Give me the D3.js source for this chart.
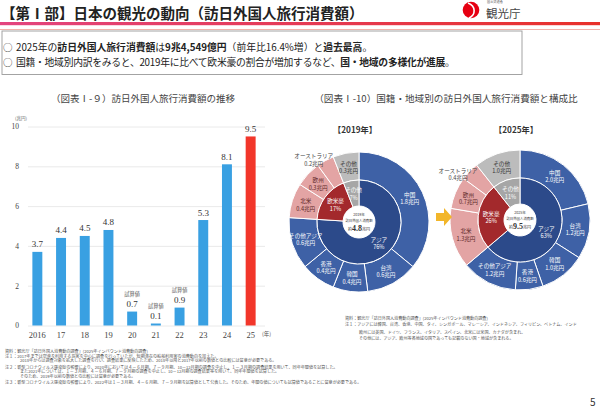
<!DOCTYPE html>
<html><head><meta charset="utf-8">
<script src="https://cdn.jsdelivr.net/npm/d3@7"></script>
<style>body{margin:0;background:#fff}svg{display:block}</style>
</head><body><svg id="c" width="600" height="414"></svg>
<script>
// ---------- data ----------
const years = ["2016","17","18","19","20","21","22","23","24","25"];
const spend = [3.7,4.4,4.5,4.8,0.7,0.1,0.9,5.3,8.1,9.5];
const estimated = [false,false,false,false,true,true,true,false,false,false];
const yTicks = [0,2,4,6,8,10];
const regions = ["中国","台湾","韓国","香港","その他アジア","北米","欧州","オーストラリア","その他"];
const regionGroup = ["asia","asia","asia","asia","asia","west","west","west","other"];
const spend2019 = [1.8,0.6,0.4,0.4,0.6,0.4,0.3,0.2,0.3];
const spend2025 = [2.0,1.2,1.0,0.6,1.2,1.3,0.7,0.4,1.0];
const groupKeys = ["asia","west","other"];
const groupNames = ["アジア","欧米豪","その他"];
const share2019 = [76,17,7];
const share2025 = [63,26,11];
const totals = {"2019":"4.8","2025":"9.5"};

const JP = "'Noto Sans CJK JP', sans-serif";
const SERIF = "'Liberation Serif', 'Noto Sans CJK JP', serif";
const svg = d3.select("#c");

// ---------- header ----------
const defs = svg.append("defs");
const grad = defs.append("linearGradient").attr("id","hdr").attr("x1","0").attr("x2","1");
grad.append("stop").attr("offset","0").attr("stop-color","#e3447f");
grad.append("stop").attr("offset","1").attr("stop-color","#e8302a");
svg.append("rect").attr("x",0).attr("y",22).attr("width",600).attr("height",3.2).attr("fill","url(#hdr)");
svg.append("line").attr("x1",0).attr("x2",600).attr("y1",29.5).attr("y2",29.5).attr("stroke","#f3b2ab").attr("stroke-width",1);
svg.append("text").attr("x",1).attr("y",19).attr("font-family",JP).attr("font-weight",700)
  .attr("font-size",14.5).attr("fill","#222").text("【第Ⅰ部】日本の観光の動向（訪日外国人旅行消費額）");
// logo
svg.append("circle").attr("cx",471).attr("cy",10).attr("r",8.3).attr("fill","#e60012");
svg.append("path").attr("d","M468,3 C476,6 476,15 469,18").attr("fill","none").attr("stroke","#fff").attr("stroke-width",1.6);
svg.append("text").attr("x",487).attr("y",3.3).attr("font-family",JP).attr("font-size",3.2).attr("fill","#555").text("国土交通省");
svg.append("text").attr("x",486).attr("y",18).attr("font-family",JP).attr("font-size",11.5).attr("fill","#444").text("観光庁");

// ---------- bullet box ----------
svg.append("rect").attr("x",2).attr("y",31).attr("width",520).attr("height",43.5)
  .attr("fill","#fff").attr("stroke","#9a9a9a").attr("stroke-width",0.9);
const bullets = [
  [["2025年の",0],["訪日外国人旅行消費額",1],["は",0],["9兆4,549億円",1],["（前年比16.4%増）と",0],["過去最高",1],["。",0]],
  [["国籍・地域別内訳をみると、2019年に比べて欧米豪の割合が増加するなど、",0],["国・地域の多様化が進展",1],["。",0]]
];
const bulletSpacing = [0, -0.27];
bullets.forEach((parts,i)=>{
  const yy = 50.5 + i*15.7;
  svg.append("text").attr("x",3).attr("y",yy).attr("font-family",JP).attr("font-size",9.5).attr("fill","#333").text("○");
  const t = svg.append("text").attr("x",16).attr("y",yy).attr("font-family",JP).attr("font-size",9.8).attr("fill","#222")
    .attr("letter-spacing",bulletSpacing[i]);
  parts.forEach(p=>t.append("tspan").attr("font-weight",p[1]?700:400).text(p[0]));
});

// ---------- bar chart ----------
svg.append("text").attr("x",143).attr("y",101.5).attr("text-anchor","middle").attr("font-family",JP)
  .attr("font-size",9.5).attr("fill","#444").text("（図表Ⅰ-９）訪日外国人旅行消費額の推移");
const x = d3.scaleBand().domain(years).range([25.5,262.5]).paddingInner(0.58).paddingOuter(0.29);
const y = d3.scaleLinear().domain([0,10]).range([325.5,126.5]);
const gGrid = svg.append("g").attr("transform","translate(28,0)")
  .call(d3.axisLeft(y).tickValues(yTicks).tickSize(-237).tickFormat(""));
gGrid.select(".domain").remove();
gGrid.selectAll("line").attr("stroke","#e4e4e4").attr("stroke-width",0.8);
const gY = svg.append("g").attr("transform","translate(19,0)")
  .call(d3.axisLeft(y).tickValues(yTicks).tickSize(0).tickPadding(0));
gY.select(".domain").remove();
gY.selectAll("text").attr("font-family",SERIF).attr("font-size",7.5).attr("fill","#444");
svg.append("text").attr("x",15).attr("y",120).attr("font-family",JP).attr("font-size",4.5).attr("fill","#666").text("(兆円)");
svg.selectAll("rect.bar").data(spend).join("rect").attr("class","bar")
  .attr("x",(d,i)=>x(years[i])).attr("width",x.bandwidth())
  .attr("y",d=>y(d)).attr("height",d=>y(0)-y(d))
  .attr("fill",(d,i)=>i===years.length-1?"#f2362a":"#39a0e2");
svg.selectAll("text.val").data(spend).join("text").attr("class","val")
  .attr("x",(d,i)=>x(years[i])+x.bandwidth()/2).attr("y",d=>y(d)-4.5)
  .attr("text-anchor","middle").attr("font-family",SERIF).attr("font-size",9).attr("fill","#333")
  .text(d=>d.toFixed(1));
svg.selectAll("text.est").data(spend.map((d,i)=>({d,i})).filter(o=>estimated[o.i])).join("text").attr("class","est")
  .attr("x",o=>x(years[o.i])+x.bandwidth()/2).attr("y",o=>y(o.d)-16)
  .attr("text-anchor","middle").attr("font-family",JP).attr("font-size",5.2).attr("fill","#555").text("試算値");
const gX = svg.append("g").attr("transform","translate(0,333.5)")
  .call(d3.axisBottom(x).tickSize(0).tickPadding(0));
gX.select(".domain").remove();
gX.selectAll("text").attr("font-family",SERIF).attr("font-size",8.5).attr("fill","#444").attr("dy","0.55em");
svg.append("text").attr("x",262).attr("y",336).attr("font-family",JP).attr("font-size",5.5).attr("fill","#555").text("(年)");

// ---------- donuts ----------
svg.append("text").attr("x",446).attr("y",101.5).attr("text-anchor","middle").attr("font-family",JP)
  .attr("font-size",9.6).attr("fill","#444").text("（図表Ⅰ-10）国籍・地域別の訪日外国人旅行消費額と構成比");
const outerColor = {asia:"#3e61a6", west:"#e3a4a4", other:"#bcbcbc"};
const innerColor = {asia:"#2c4a8a", west:"#a3292c", other:"#a6a6a6"};
const labelColor = {asia:"#fff", west:"#5a2424", other:"#333"};
const R0 = 16, R1 = 42, R2 = 70;
function donut(cx, cy, year, values, shares){
  const g = svg.append("g").attr("transform",`translate(${cx},${cy})`);
  const outer = regions.map((r,i)=>({name:r, v:values[i], grp:regionGroup[i]}));
  const inner = groupKeys.map((k,i)=>({name:groupNames[i], share:shares[i], grp:k,
      v:d3.sum(outer.filter(o=>o.grp===k), o=>o.v)}));
  const pie = d3.pie().sort(null).value(d=>d.v);
  const aO = d3.arc().innerRadius(R1).outerRadius(R2);
  const aI = d3.arc().innerRadius(R0).outerRadius(R1);
  const po = pie(outer), pi = pie(inner);
  g.selectAll("path.o").data(po).join("path").attr("d",aO).attr("fill",d=>outerColor[d.data.grp])
    .attr("stroke","#fff").attr("stroke-width",1);
  g.selectAll("path.i").data(pi).join("path").attr("d",aI).attr("fill",d=>innerColor[d.data.grp])
    .attr("stroke","#fff").attr("stroke-width",1);
  po.forEach(d=>{
    let c;
    if(d.data.name==="オーストラリア"){
      const a = d.startAngle, r = 77; c = [r*Math.sin(a), -r*Math.cos(a)];
    } else c = aO.centroid(d);
    const t = g.append("text").attr("text-anchor","middle").attr("font-family",JP).attr("font-size",5.6)
      .attr("fill", d.data.name==="オーストラリア" ? "#444" : labelColor[d.data.grp]);
    t.append("tspan").attr("x",c[0]).attr("y",c[1]-1.5).text(d.data.name);
    t.append("tspan").attr("x",c[0]).attr("y",c[1]+6).text(d.data.v.toFixed(1)+"兆円");
  });
  pi.forEach(d=>{
    const c = aI.centroid(d);
    const t = g.append("text").attr("text-anchor","middle").attr("font-family",JP).attr("font-size",5.6).attr("fill","#fff");
    t.append("tspan").attr("x",c[0]).attr("y",c[1]-1.5).text(d.data.name);
    t.append("tspan").attr("x",c[0]).attr("y",c[1]+6).text(d.data.share+"%");
  });
  g.append("circle").attr("r",R0-0.5).attr("fill","#fff");
  g.append("text").attr("y",-6).attr("text-anchor","middle").attr("font-family",JP).attr("font-size",3.6).attr("fill","#333").text(year+"年");
  g.append("text").attr("y",0).attr("text-anchor","middle").attr("font-family",JP).attr("font-size",3.4).attr("fill","#333").text("訪日外国人消費額");
  const t = g.append("text").attr("y",8.5).attr("text-anchor","middle").attr("font-family",JP).attr("font-size",4).attr("fill","#333");
  t.append("tspan").text("約");
  t.append("tspan").attr("font-family",SERIF).attr("font-weight",700).attr("font-size",8).text(totals[year]);
  t.append("tspan").text("兆円");
  svg.append("text").attr("x",cx-4).attr("y",133).attr("text-anchor","middle").attr("font-family",JP)
    .attr("font-weight",700).attr("font-size",8.2).attr("fill","#333").text("【"+year+"年】");
}
donut(359,222,"2019",spend2019,share2019);
donut(520,220,"2025",spend2025,share2025);
// arrow
svg.append("path").attr("d","M436,213 H444 V208 L452,217 L444,226 V221 H436 Z").attr("fill","#f2b62a");

// ---------- notes ----------
const notesRight = [
  ["資料：観光庁「訪日外国人消費動向調査」(2025年インバウンド消費動向調査)",345,320],
  ["注１：アジアには韓国、台湾、香港、中国、タイ、シンガポール、マレーシア、インドネシア、フィリピン、ベトナム、インド",345,326],
  ["欧州には英国、ドイツ、フランス、イタリア、スペイン、北米には米国、カナダが含まれ、",359,333.5],
  ["その他には、アジア、欧州等各地域の国であっても記載のない国・地域が含まれる。",359,340]
];
const notesLeft = [
  ["資料：観光庁「訪日外国人消費動向調査」(2025年インバウンド消費動向調査)",5,352.5],
  ["注１：2017年までは空港を利用する旅客を中心に調査を行っていたが、短期滞在の船舶利用客の消費動向を加えた。",5,357.5],
  ["2018年からは調査対象を拡大した調査を行い、調査結果に反映したため、2018年以降と2017年以前の数値との比較には留意が必要である。",20,362],
  ["注２：新型コロナウイルス感染症の影響により、2020年においては４－６月期、７－９月期、10－12月期の調査を中止し、１－３月期の調査結果を用いて、同年年間値を試算した。",5,368.5],
  ["また2021年については、１－３月期、４－６月期、７－９月期の調査を中止し、10－12月期の調査結果等を用いて、同年年間値を試算した。",20,373],
  ["そのため、2019年以前の数値との比較には留意が必要である。",20,378],
  ["注３：新型コロナウイルス感染症の影響により、2022年は１－３月期、４－６月期、７－９月期を試算値として公表した。そのため、年間の値についても試算値であることに留意が必要である。",5,384]
];
svg.selectAll("text.note").data(notesLeft.concat(notesRight)).join("text").attr("class","note")
  .attr("x",d=>d[1]).attr("y",d=>d[2]).attr("font-family",JP).attr("font-size",4.1).attr("fill","#555").text(d=>d[0]);
svg.append("text").attr("x",590).attr("y",406).attr("font-family",JP).attr("font-size",10).attr("fill","#333").text("5");
</script></body></html>
